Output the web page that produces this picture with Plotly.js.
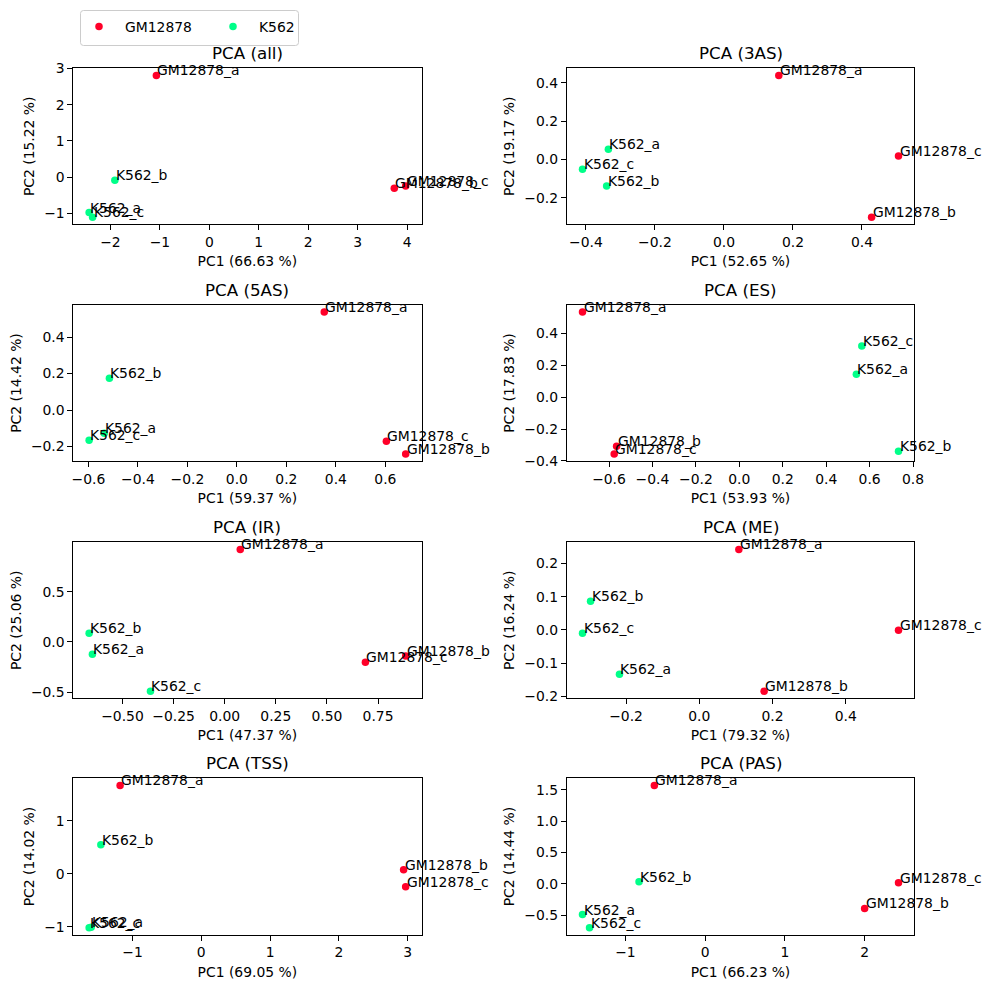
<!DOCTYPE html>
<html>
<head>
<meta charset="utf-8">
<script src="https://cdn.plot.ly/plotly-3.0.1.min.js"></script>
<style>html,body{margin:0;padding:0;background:#fff;}#chart{width:990px;height:988px;}</style>
</head>
<body>
<div id="chart"></div>
<script>
// ---- data ----
const panelNames = ['all', '3AS', '5AS', 'ES', 'IR', 'ME', 'TSS', 'PAS'];
const sampleLabels = ['GM12878_a', 'GM12878_b', 'GM12878_c', 'K562_a', 'K562_b', 'K562_c'];
const sampleGroups = ['GM12878', 'GM12878', 'GM12878', 'K562', 'K562', 'K562'];
const groupNames = ['GM12878', 'K562'];
const pc1Pct = [66.63, 52.65, 59.37, 53.93, 47.37, 79.32, 69.05, 66.23];
const pc2Pct = [15.22, 19.17, 14.42, 17.83, 25.06, 16.24, 14.02, 14.44];

const pc1_all = [-1.07, 3.74, 3.97, -2.43, -1.91, -2.36];
const pc2_all = [2.81, -0.31, -0.25, -0.98, -0.09, -1.11];
const pc1_3AS = [0.159, 0.428, 0.506, -0.335, -0.340, -0.410];
const pc2_3AS = [0.439, -0.302, 0.018, 0.053, -0.139, -0.052];
const pc1_5AS = [0.353, 0.682, 0.604, -0.536, -0.515, -0.597];
const pc2_5AS = [0.537, -0.240, -0.171, -0.127, 0.175, -0.165];
const pc1_ES = [-0.722, -0.565, -0.576, 0.539, 0.733, 0.564];
const pc2_ES = [0.532, -0.308, -0.356, 0.143, -0.339, 0.319];
const pc1_IR = [0.076, 0.885, 0.688, -0.647, -0.663, -0.363];
const pc2_IR = [0.921, -0.139, -0.202, -0.122, 0.086, -0.490];
const pc1_ME = [0.108, 0.177, 0.544, -0.218, -0.297, -0.319];
const pc2_ME = [0.242, -0.184, -0.001, -0.133, 0.086, -0.010];
const pc1_TSS = [-1.18, 2.94, 2.97, -1.60, -1.46, -1.63];
const pc2_TSS = [1.67, 0.076, -0.247, -1.01, 0.55, -1.02];
const pc1_PAS = [-0.637, 2.00, 2.425, -1.538, -0.829, -1.45];
const pc2_PAS = [1.57, -0.393, 0.018, -0.49, 0.034, -0.70];

const pc1Sets = [pc1_all, pc1_3AS, pc1_5AS, pc1_ES, pc1_IR, pc1_ME, pc1_TSS, pc1_PAS];
const pc2Sets = [pc2_all, pc2_3AS, pc2_5AS, pc2_ES, pc2_IR, pc2_ME, pc2_TSS, pc2_PAS];

// ---- styles ----
const groupColors = {'GM12878': '#ff0029', 'K562': '#00ff89'};
const W = 990, H = 988;
const colPx = [[73.3, 421.5], [566.7, 914.3]];
const rowPx = [[68.3, 224.3], [305.0, 461.0], [542.3, 698.3], [778.3, 934.8]];
const xTick = [[1, null], [0.2, '.1f'], [0.2, '.1f'], [0.2, '.1f'], [0.25, '.2f'], [0.2, '.1f'], [1, null], [1, null]];
const yTick = [[1, null], [0.2, '.1f'], [0.2, '.1f'], [0.2, '.1f'], [0.5, '.1f'], [0.1, '.1f'], [1, null], [0.5, '.1f']];
const FONT = 'DejaVu Sans, sans-serif';
const fs = 13.9;

function padRange(arr) {
  const mn = Math.min(...arr), mx = Math.max(...arr);
  const p = (mx - mn) * 0.05;
  return [mn - p, mx + p];
}

// legend frame (matplotlib-style rounded box)
const lx0 = 80.5, lx1 = 298.5, ly0 = 10.5, ly1 = 45.5, rr = 3;
function px2paper(x, y) { return [(x / W).toFixed(5), (1 - y / H).toFixed(5)]; }
const legendPath = (() => {
  const p = (x, y) => px2paper(x, y).join(',');
  return 'M' + p(lx0 + rr, ly0) + ' L' + p(lx1 - rr, ly0) + ' Q' + p(lx1, ly0) + ' ' + p(lx1, ly0 + rr) +
    ' L' + p(lx1, ly1 - rr) + ' Q' + p(lx1, ly1) + ' ' + p(lx1 - rr, ly1) +
    ' L' + p(lx0 + rr, ly1) + ' Q' + p(lx0, ly1) + ' ' + p(lx0, ly1 - rr) +
    ' L' + p(lx0, ly0 + rr) + ' Q' + p(lx0, ly0) + ' ' + p(lx0 + rr, ly0) + ' Z';
})();

const traces = [];
const annotations = [];
const layout = {
  width: W, height: H,
  margin: {l: 0, r: 0, t: 0, b: 0},
  paper_bgcolor: '#fff', plot_bgcolor: '#fff',
  font: {family: FONT, size: fs, color: '#000'},
  showlegend: true,
  legend: {
    orientation: 'h', x: 73 / W, y: 1 - 11 / H, xanchor: 'left', yanchor: 'top',
    borderwidth: 0, bgcolor: 'rgba(0,0,0,0)',
    font: {family: FONT, size: fs, color: '#000'},
    entrywidth: 77, itemwidth: 42, tracegroupgap: 0
  },
  shapes: [{type: 'path', xref: 'paper', yref: 'paper', path: legendPath,
            line: {color: '#cccccc', width: 1}, fillcolor: 'rgba(255,255,255,0.8)', layer: 'above'}],
  hovermode: false
};

panelNames.forEach((name, i) => {
  const r = Math.floor(i / 2), c = i % 2;
  const ax = i === 0 ? '' : String(i + 1);
  const xs = pc1Sets[i], ys = pc2Sets[i];
  groupNames.forEach((g) => {
    const idx = sampleGroups.map((sg, k) => sg === g ? k : -1).filter(k => k >= 0);
    traces.push({
      type: 'scatter', mode: 'markers', name: g, legendgroup: g,
      showlegend: i === 0,
      x: idx.map(k => xs[k]), y: idx.map(k => ys[k]),
      xaxis: 'x' + ax, yaxis: 'y' + ax,
      marker: {color: groupColors[g], size: 7.5, line: {width: 0}},
      cliponaxis: false
    });
  });
  sampleLabels.forEach((lab, k) => {
    annotations.push({
      xref: 'x' + ax, yref: 'y' + ax, x: xs[k], y: ys[k], text: lab,
      showarrow: false, xanchor: 'left', yanchor: 'bottom', borderpad: 0,
      yshift: -4, font: {family: FONT, size: fs, color: '#000'}
    });
  });
  const dx = [colPx[c][0] / W, colPx[c][1] / W];
  const dy = [1 - rowPx[r][1] / H, 1 - rowPx[r][0] / H];
  annotations.push({
    xref: 'paper', yref: 'paper', x: (dx[0] + dx[1]) / 2, y: dy[1],
    text: 'PCA (' + name + ')', showarrow: false, xanchor: 'center', yanchor: 'bottom',
    yshift: 3, font: {family: FONT, size: 16.7, color: '#000'}
  });
  const common = {
    showline: true, mirror: true, linecolor: '#000', linewidth: 1,
    ticks: 'outside', ticklen: 4.9, tickwidth: 1, tickcolor: '#000',
    showgrid: false, zeroline: false, automargin: false,
    tickfont: {family: FONT, size: fs, color: '#000'}
  };
  layout['xaxis' + ax] = Object.assign({}, common, {
    domain: dx, anchor: 'y' + ax, range: padRange(xs),
    dtick: xTick[i][0], tick0: 0, tickformat: xTick[i][1] || '',
    title: {text: 'PC1 (' + pc1Pct[i].toFixed(2) + ' %)', font: {family: FONT, size: fs, color: '#000'}, standoff: 7}
  });
  layout['yaxis' + ax] = Object.assign({}, common, {
    domain: dy, anchor: 'x' + ax, range: padRange(ys),
    dtick: yTick[i][0], tick0: 0, tickformat: yTick[i][1] || '',
    title: {text: 'PC2 (' + pc2Pct[i].toFixed(2) + ' %)', font: {family: FONT, size: fs, color: '#000'}, standoff: 6}
  });
});
layout.annotations = annotations;

Plotly.newPlot('chart', traces, layout, {displayModeBar: false, staticPlot: true});
</script>
</body>
</html>
